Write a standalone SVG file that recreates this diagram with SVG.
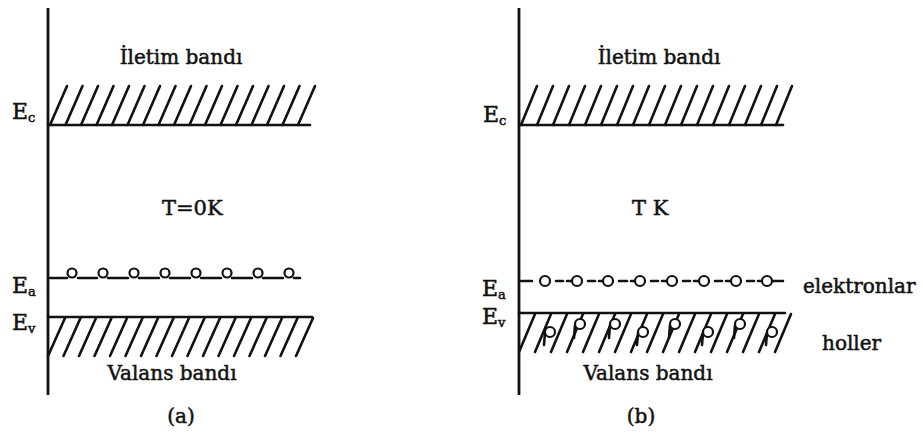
<svg xmlns="http://www.w3.org/2000/svg" width="923" height="445" viewBox="0 0 923 445">
<style>
.ln{stroke:#111;stroke-width:2.6;fill:none;stroke-linecap:round}
.ax{stroke:#111;stroke-width:2.8;fill:none}
.h{stroke:#111;stroke-width:2.6;stroke-linecap:round}
.c{fill:#fff;stroke:#111;stroke-width:2.2}
.t{font-family:"DejaVu Serif","Liberation Serif",serif;font-size:20px;fill:#111;stroke:#111;stroke-width:0.5}
.s{font-size:13px}
</style>
<rect width="923" height="445" fill="#fff"/>
<g id="panel-a">
<g id="axis-a"><line class="ax" x1="48" y1="8" x2="48" y2="395"/></g>
<g id="Ec-a">
<line class="ln" x1="48" y1="125" x2="310" y2="125"/>
<g class="h">
<line x1="50" y1="125" x2="67" y2="86"/><line x1="65.5" y1="125" x2="82.5" y2="86"/><line x1="81" y1="125" x2="98" y2="86"/><line x1="96.5" y1="125" x2="113.5" y2="86"/><line x1="112" y1="125" x2="129" y2="86"/><line x1="127.5" y1="125" x2="144.5" y2="86"/><line x1="143" y1="125" x2="160" y2="86"/><line x1="158.5" y1="125" x2="175.5" y2="86"/><line x1="174" y1="125" x2="191" y2="86"/><line x1="189.5" y1="125" x2="206.5" y2="86"/><line x1="205" y1="125" x2="222" y2="86"/><line x1="220.5" y1="125" x2="237.5" y2="86"/><line x1="236" y1="125" x2="253" y2="86"/><line x1="251.5" y1="125" x2="268.5" y2="86"/><line x1="267" y1="125" x2="284" y2="86"/><line x1="282.5" y1="125" x2="299.5" y2="86"/><line x1="298" y1="125" x2="315" y2="86"/>
</g>
<text class="t" x="12" y="119" style="font-size:22px">E<tspan class="s" dy="3">c</tspan></text>
</g>
<g id="Ea-a">
<path class="ln" d="M50 278H67M78 278H97M108 278H128M139 278H159M170 278H190M201 278H221M232 278H252M263 278H283M294 278H300"/>
<g class="c"><circle cx="72" cy="273" r="4.5"/><circle cx="103" cy="273" r="4.5"/><circle cx="134" cy="273" r="4.5"/><circle cx="165" cy="273" r="4.5"/><circle cx="196" cy="273" r="4.5"/><circle cx="227" cy="273" r="4.5"/><circle cx="258" cy="273" r="4.5"/><circle cx="289" cy="273" r="4.5"/></g>
<text class="t" x="12" y="293" style="font-size:22px">E<tspan class="s" dy="3">a</tspan></text>
</g>
<g id="Ev-a">
<line class="ln" x1="48" y1="317" x2="312" y2="317"/>
<g class="h">
<line x1="48" y1="356" x2="65" y2="318"/><line x1="63.5" y1="356" x2="80.5" y2="318"/><line x1="79" y1="356" x2="96" y2="318"/><line x1="94.5" y1="356" x2="111.5" y2="318"/><line x1="110" y1="356" x2="127" y2="318"/><line x1="125.5" y1="356" x2="142.5" y2="318"/><line x1="141" y1="356" x2="158" y2="318"/><line x1="156.5" y1="356" x2="173.5" y2="318"/><line x1="172" y1="356" x2="189" y2="318"/><line x1="187.5" y1="356" x2="204.5" y2="318"/><line x1="203" y1="356" x2="220" y2="318"/><line x1="218.5" y1="356" x2="235.5" y2="318"/><line x1="234" y1="356" x2="251" y2="318"/><line x1="249.5" y1="356" x2="266.5" y2="318"/><line x1="265" y1="356" x2="282" y2="318"/><line x1="280.5" y1="356" x2="297.5" y2="318"/><line x1="296" y1="356" x2="313" y2="318"/>
</g>
<text class="t" x="12" y="330" style="font-size:22px">E<tspan class="s" dy="3">v</tspan></text>
</g>
<g id="labels-a">
<text class="t" x="181" y="64" text-anchor="middle">İletim bandı</text>
<text class="t" x="162" y="215" style="font-size:21px">T=0K</text>
<text class="t" x="172" y="380" text-anchor="middle">Valans bandı</text>
<text class="t" x="181" y="423" text-anchor="middle">(a)</text>
</g>
</g>
<g id="panel-b">
<g id="axis-b"><line class="ax" x1="519" y1="8" x2="519" y2="395"/></g>
<g id="Ec-b">
<line class="ln" x1="519" y1="125" x2="783" y2="125"/>
<g class="h">
<line x1="521" y1="125" x2="537" y2="86"/><line x1="537" y1="125" x2="553" y2="86"/><line x1="553" y1="125" x2="569" y2="86"/><line x1="569" y1="125" x2="585" y2="86"/><line x1="585" y1="125" x2="601" y2="86"/><line x1="601" y1="125" x2="617" y2="86"/><line x1="617" y1="125" x2="633" y2="86"/><line x1="633" y1="125" x2="649" y2="86"/><line x1="649" y1="125" x2="665" y2="86"/><line x1="665" y1="125" x2="681" y2="86"/><line x1="681" y1="125" x2="697" y2="86"/><line x1="697" y1="125" x2="713" y2="86"/><line x1="713" y1="125" x2="729" y2="86"/><line x1="729" y1="125" x2="745" y2="86"/><line x1="745" y1="125" x2="761" y2="86"/><line x1="761" y1="125" x2="777" y2="86"/><line x1="776" y1="125" x2="792" y2="86"/>
</g>
<text class="t" x="483" y="122" style="font-size:22px">E<tspan class="s" dy="3">c</tspan></text>
</g>
<g id="Ea-b">
<path class="ln" d="M521 281H532M556 281H563M567 281H572M588 281H595M599 281H603M619 281H627M631 281H635M651 281H658M662 281H667M683 281H690M694 281H699M715 281H722M726 281H731M747 281H754M758 281H762M772 281H783"/>
<g class="c"><circle cx="545" cy="281" r="5"/><circle cx="577" cy="281" r="5"/><circle cx="608" cy="281" r="5"/><circle cx="640" cy="281" r="5"/><circle cx="672" cy="281" r="5"/><circle cx="704" cy="281" r="5"/><circle cx="736" cy="281" r="5"/><circle cx="767" cy="281" r="5"/></g>
<text class="t" x="482" y="296" style="font-size:22px">E<tspan class="s" dy="3">a</tspan></text>
</g>
<g id="Ev-b">
<line class="ln" x1="519" y1="313" x2="785" y2="313"/>
<g class="h">
<line x1="519" y1="352" x2="535" y2="314"/><line x1="535" y1="352" x2="551" y2="314"/><line x1="551" y1="352" x2="567" y2="314"/><line x1="567" y1="352" x2="583" y2="314"/><line x1="583" y1="352" x2="599" y2="314"/><line x1="599" y1="352" x2="615" y2="314"/><line x1="615" y1="352" x2="631" y2="314"/><line x1="631" y1="352" x2="647" y2="314"/><line x1="647" y1="352" x2="663" y2="314"/><line x1="663" y1="352" x2="679" y2="314"/><line x1="679" y1="352" x2="695" y2="314"/><line x1="695" y1="352" x2="711" y2="314"/><line x1="711" y1="352" x2="727" y2="314"/><line x1="727" y1="352" x2="743" y2="314"/><line x1="743" y1="352" x2="759" y2="314"/><line x1="759" y1="352" x2="775" y2="314"/><line x1="775" y1="352" x2="791" y2="314"/>
</g>
<g class="h">
<line x1="545" y1="333" x2="544" y2="345"/><line x1="575" y1="325" x2="574" y2="338"/><line x1="610" y1="325" x2="609" y2="338"/><line x1="638" y1="333" x2="637" y2="345"/><line x1="670" y1="325" x2="669" y2="338"/><line x1="703" y1="333" x2="702" y2="345"/><line x1="735" y1="325" x2="734" y2="338"/><line x1="767" y1="333" x2="766" y2="345"/>
</g>
<g class="c"><circle cx="550" cy="332" r="5"/><circle cx="580" cy="324" r="5"/><circle cx="615" cy="324" r="5"/><circle cx="643" cy="332" r="5"/><circle cx="675" cy="324" r="5"/><circle cx="708" cy="332" r="5"/><circle cx="740" cy="324" r="5"/><circle cx="772" cy="332" r="5"/></g>
<text class="t" x="482" y="324" style="font-size:22px">E<tspan class="s" dy="3">v</tspan></text>
</g>
<g id="labels-b">
<text class="t" x="659" y="64" text-anchor="middle">İletim bandı</text>
<text class="t" x="632" y="215" style="font-size:21px">T K</text>
<text class="t" x="648" y="380" text-anchor="middle">Valans bandı</text>
<text class="t" x="641" y="423" text-anchor="middle">(b)</text>
<text class="t" x="803" y="293">elektronlar</text>
<text class="t" x="822" y="350">holler</text>
</g>
</g>
</svg>
